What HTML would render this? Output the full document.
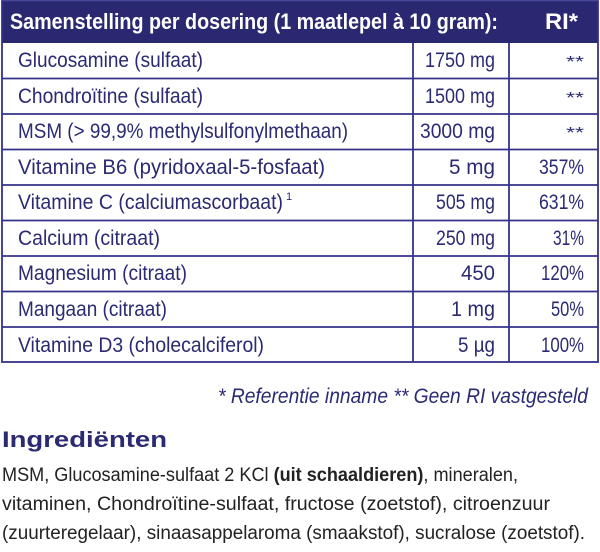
<!DOCTYPE html>
<html><head><meta charset="utf-8"><style>
html,body{margin:0;padding:0;background:#fff;}
svg{display:block;}
text{font-family:"Liberation Sans Narrow","Liberation Sans",sans-serif;}
</style></head><body>
<svg width="600" height="552" viewBox="0 0 600 552" xmlns="http://www.w3.org/2000/svg">
<rect x="2" y="1" width="596" height="42" fill="#2a2870"/>
<g fill="none" stroke="#34338a" stroke-width="1.8">
<rect x="2" y="1" width="596" height="361"/>
<line x1="2" y1="78.5" x2="598" y2="78.5"/>
<line x1="2" y1="114" x2="598" y2="114"/>
<line x1="2" y1="149.5" x2="598" y2="149.5"/>
<line x1="2" y1="185" x2="598" y2="185"/>
<line x1="2" y1="220.5" x2="598" y2="220.5"/>
<line x1="2" y1="256" x2="598" y2="256"/>
<line x1="2" y1="291.5" x2="598" y2="291.5"/>
<line x1="2" y1="327" x2="598" y2="327"/>
<line x1="413" y1="43" x2="413" y2="362"/>
<line x1="509" y1="43" x2="509" y2="362"/>
</g>
<g fill="#fff" font-weight="bold" font-size="22">
<text x="10" y="29" textLength="488" lengthAdjust="spacingAndGlyphs">Samenstelling per dosering (1 maatlepel à 10 gram):</text>
<text x="545" y="29" textLength="33" lengthAdjust="spacingAndGlyphs">RI*</text>
</g>
<g fill="#2b2a72" font-size="21">
<text x="18" y="67" textLength="185" lengthAdjust="spacingAndGlyphs">Glucosamine (sulfaat)</text>
<text x="18" y="103" textLength="185" lengthAdjust="spacingAndGlyphs">Chondroïtine (sulfaat)</text>
<text x="18" y="138" textLength="330" lengthAdjust="spacingAndGlyphs">MSM (&gt; 99,9% methylsulfonylmethaan)</text>
<text x="18" y="174" textLength="307" lengthAdjust="spacingAndGlyphs">Vitamine B6 (pyridoxaal-5-fosfaat)</text>
<text x="18" y="209" textLength="265" lengthAdjust="spacingAndGlyphs">Vitamine C (calciumascorbaat)</text>
<text x="286" y="200" font-size="11">1</text>
<text x="18" y="245" textLength="142" lengthAdjust="spacingAndGlyphs">Calcium (citraat)</text>
<text x="18" y="280" textLength="169" lengthAdjust="spacingAndGlyphs">Magnesium (citraat)</text>
<text x="18" y="316" textLength="149" lengthAdjust="spacingAndGlyphs">Mangaan (citraat)</text>
<text x="18" y="352" textLength="246" lengthAdjust="spacingAndGlyphs">Vitamine D3 (cholecalciferol)</text>

<text x="425" y="67" textLength="70" lengthAdjust="spacingAndGlyphs">1750 mg</text>
<text x="425" y="103" textLength="70" lengthAdjust="spacingAndGlyphs">1500 mg</text>
<text x="420" y="138" textLength="75" lengthAdjust="spacingAndGlyphs">3000 mg</text>
<text x="449" y="174" textLength="46" lengthAdjust="spacingAndGlyphs">5 mg</text>
<text x="436" y="209" textLength="59" lengthAdjust="spacingAndGlyphs">505 mg</text>
<text x="436" y="245" textLength="59" lengthAdjust="spacingAndGlyphs">250 mg</text>
<text x="461" y="280" textLength="34" lengthAdjust="spacingAndGlyphs">450</text>
<text x="451" y="316" textLength="44" lengthAdjust="spacingAndGlyphs">1 mg</text>
<text x="458" y="352" textLength="37" lengthAdjust="spacingAndGlyphs">5 µg</text>

<text x="566" y="67" font-size="16" textLength="18" lengthAdjust="spacingAndGlyphs">**</text>
<text x="566" y="103" font-size="16" textLength="18" lengthAdjust="spacingAndGlyphs">**</text>
<text x="566" y="138" font-size="16" textLength="18" lengthAdjust="spacingAndGlyphs">**</text>
<text x="539" y="174" textLength="45" lengthAdjust="spacingAndGlyphs">357%</text>
<text x="539" y="209" textLength="45" lengthAdjust="spacingAndGlyphs">631%</text>
<text x="553" y="245" textLength="31" lengthAdjust="spacingAndGlyphs">31%</text>
<text x="541" y="280" textLength="43" lengthAdjust="spacingAndGlyphs">120%</text>
<text x="551" y="316" textLength="33" lengthAdjust="spacingAndGlyphs">50%</text>
<text x="541" y="352" textLength="43" lengthAdjust="spacingAndGlyphs">100%</text>

<text x="218" y="403" font-style="italic" textLength="370" lengthAdjust="spacingAndGlyphs">* Referentie inname  ** Geen RI vastgesteld</text>
</g>
<text x="2" y="447" fill="#2b2a72" font-family="Liberation Sans, sans-serif" font-weight="bold" font-size="22" textLength="165" lengthAdjust="spacingAndGlyphs">Ingrediënten</text>
<g fill="#222" font-size="19">
<text x="2" y="481" textLength="516" lengthAdjust="spacingAndGlyphs">MSM, Glucosamine-sulfaat 2 KCl <tspan font-weight="bold">(uit schaaldieren)</tspan>, mineralen,</text>
<text x="2" y="510" textLength="548" lengthAdjust="spacingAndGlyphs">vitaminen, Chondroïtine-sulfaat, fructose (zoetstof), citroenzuur</text>
<text x="2" y="539" textLength="583" lengthAdjust="spacingAndGlyphs">(zuurteregelaar), sinaasappelaroma (smaakstof), sucralose (zoetstof).</text>
</g>
</svg>
</body></html>
